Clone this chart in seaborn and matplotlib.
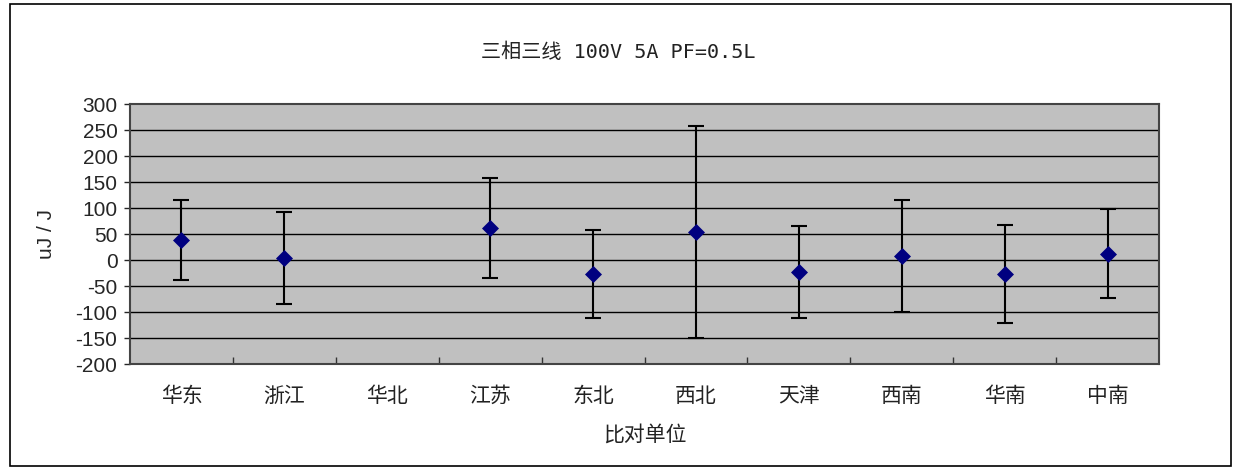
import numpy as np
import pandas as pd
import seaborn as sns
import matplotlib.pyplot as plt
from matplotlib.patches import Rectangle
from matplotlib.ticker import FixedLocator

# data
units = ['华东', '浙江', '华北', '江苏', '东北', '西北', '天津', '西南', '华南', '中南']
values = [38, 4, np.nan, 62, -27, 54, -23, 8, -27, 12]
uncert = [77, 88, np.nan, 96, 84, 204, 88, 108, 95, 86]
yticks = [-200, -150, -100, -50, 0, 50, 100, 150, 200, 250, 300]

df = pd.DataFrame({'unit': units, 'value': values, 'U': uncert})
df['pos'] = np.arange(len(units))

sns.set_style('white')
plt.rcParams['font.family'] = ['Liberation Sans', 'Noto Sans CJK SC', 'DejaVu Sans']
cjk = ['Noto Sans CJK SC']

fig = plt.figure(figsize=(12.44, 4.70), dpi=100)
ax = fig.add_axes([130 / 1244, 1 - 364 / 470, 1029 / 1244, 260 / 470])
ax.set_facecolor('#c0c0c0')

# horizontal grid
for y in yticks[1:-1]:
    ax.axhline(y, color='black', lw=1.0, zorder=1)

ax.errorbar(df['pos'], df['value'], yerr=df['U'], fmt='none', ecolor='black',
            elinewidth=1.5, capsize=6, capthick=1.5, zorder=2)
sns.scatterplot(data=df, x='pos', y='value', marker='D', s=75, color='#000080',
                edgecolor='#000080', linewidth=0, zorder=3, ax=ax)

ax.set_xlim(-0.5, len(units) - 0.5)
ax.set_ylim(-200, 300)
ax.set_xticks(df['pos'])
ax.set_xticklabels(units, family=cjk, fontsize=15, color='#222222')
ax.xaxis.set_minor_locator(FixedLocator(np.arange(0.5, len(units) - 1, 1.0)))
ax.tick_params(axis='x', which='major', length=0, pad=15)
ax.tick_params(axis='x', which='minor', direction='in', length=5, width=1, color='#333333', bottom=True)
ax.set_yticks(yticks)
ax.set_yticklabels([str(v) for v in yticks], fontsize=15)
ax.tick_params(axis='y', which='major', length=4, width=1, left=True, pad=5)

for s in ax.spines.values():
    s.set_color('#444444')
    s.set_linewidth(1.5)

ax.set_xlabel('比对单位', family=cjk, fontsize=15, labelpad=12, color='#222222')
ax.set_ylabel('uJ / J', fontsize=15, labelpad=14)
fig.text(618 / 1244, 1 - 52 / 470, '三相三线 100V 5A PF=0.5L', ha='center', va='center',
         family=['DejaVu Sans Mono', 'Noto Sans CJK SC'], fontsize=14.5, color='#222222')

fig.patches.append(Rectangle((10 / 1244, 4 / 470), 1221 / 1244, 462 / 470, transform=fig.transFigure,
                             fill=False, edgecolor='black', lw=1.2))

fig.savefig('out.png', dpi=100, facecolor='white')
